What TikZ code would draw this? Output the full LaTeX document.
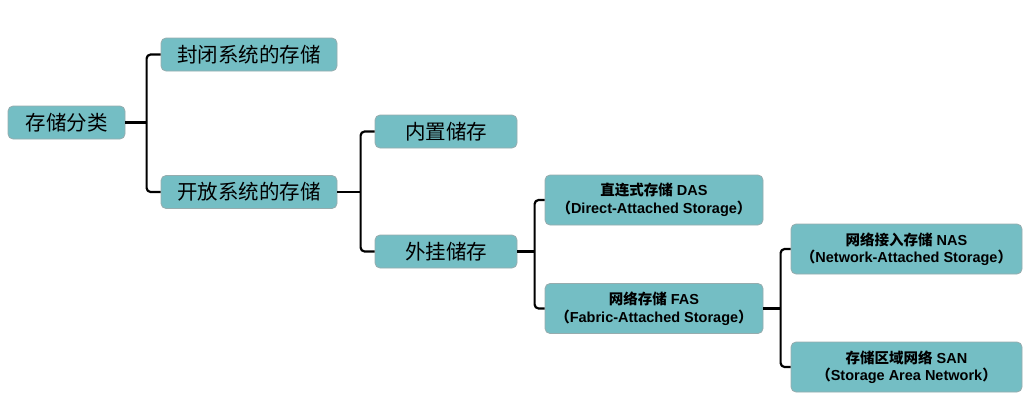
\documentclass[tikz,border=0pt]{standalone}
\usepackage{fontspec}
\setmainfont{Liberation Sans}
\newfontfamily\cjk{Noto Sans CJK SC}
\newcommand\zh[1]{{\cjk #1}}
\definecolor{boxfill}{RGB}{116,190,196}
\definecolor{boxline}{RGB}{150,172,174}

\begin{document}
\begin{tikzpicture}[x=1pt, y=-1pt, line join=round, line width=2.2pt]

	\tikzstyle{box}=[draw=boxline, line width=0.8pt, fill=boxfill, rounded corners=5pt, inner sep=0pt, align=center]
	\tikzstyle{big}=[box, minimum height=33pt, font=\cjk\fontsize{20.5}{24}\selectfont]
	\tikzstyle{small}=[box, minimum height=50pt, font=\bfseries\fontsize{14.5}{17.5}\selectfont]
	\tikzstyle{link}=[rounded corners=4pt]

	\useasboundingbox (0,0) rectangle (1031,416);

	\node[big, minimum width=117pt] (root) at (66.5,122.5) {存储分类};
	\node[big, minimum width=176pt] (closed) at (249,54.5) {封闭系统的存储};
	\node[big, minimum width=176pt] (open) at (249,192) {开放系统的存储};
	\node[big, minimum width=142pt] (internal) at (446,131.5) {内置储存};
	\node[big, minimum width=142pt] (external) at (446,251.5) {外挂储存};

	\node[small, minimum width=218pt] (das) at (654,200)
	  {\zh{直连式存储} DAS\\\zh{（}Direct-Attached Storage\zh{）}};
	\node[small, minimum width=218pt] (fas) at (654,308.5)
	  {\zh{网络存储} FAS\\\zh{（}Fabric-Attached Storage\zh{）}};
	\node[small, minimum width=231pt] (nas) at (906.5,249)
	  {\zh{网络接入存储} NAS\\\zh{（}Network-Attached Storage\zh{）}};
	\node[small, minimum width=231pt] (san) at (906.5,367)
	  {\zh{存储区域网络} SAN\\\zh{（}Storage Area Network\zh{）}};

	% braces from parent to its two children
	\foreach \p/\a/\b/\g in {root/closed/open/14, open/internal/external/14,
	                         external/das/fas/10, fas/nas/san/10} {
	  \draw[link] (\a.west) -- ++(-\g,0) |- (\b.west);
	  \draw (\p.east) -- ([xshift=-\g pt]\a.west |- \p.east);
	}

\end{tikzpicture}
\end{document}
